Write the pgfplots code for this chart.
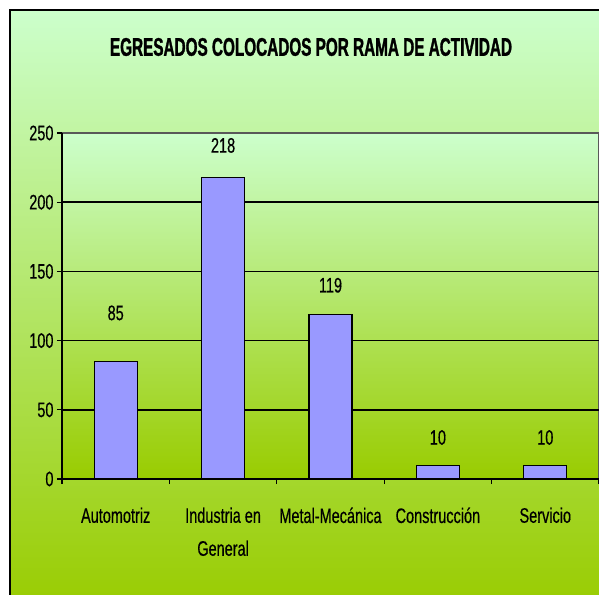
\documentclass[border=0pt]{standalone}
\usepackage{fontspec}
\setmainfont{Liberation Sans}[FakeStretch=0.69, FakeBold=0.4]
\newfontfamily\titlefont{Liberation Sans Bold}[FakeStretch=0.6, FakeBold=1.2]
\usepackage{pgfplots}
\pgfplotsset{compat=1.18}
\definecolor{topg}{HTML}{CCFFCC}
\definecolor{botg}{HTML}{99CC00}
\definecolor{barc}{HTML}{9999FF}
\begin{document}
\begin{tikzpicture}
\useasboundingbox (-62pt,-115pt) rectangle (537pt,479pt);
\shade[top color=topg, bottom color=botg] (-52pt,469pt) rectangle (570pt,-130pt);
\draw[black, line width=2pt] (-52pt,469pt) rectangle (570pt,-130pt);
\node[font=\titlefont\fontsize{25.5}{30}\selectfont] at (249pt,432pt) {EGRESADOS COLOCADOS POR RAMA DE ACTIVIDAD};
\begin{axis}[at={(0pt,0pt)}, anchor=south west, scale only axis,
  width=537pt, height=346pt,
  xmin=-0.5, xmax=4.5, ymin=0, ymax=250,
  axis background/.style={top color=topg, bottom color=botg, draw=gray!70!black, line width=1.5pt},
  axis x line*=bottom, axis y line*=left,
  axis line style={black, line width=1.5pt},
  tick align=outside, major tick length=5pt,
  tick style={black, line width=1.2pt},
  tick label style={font=\fontsize{21}{25}\selectfont},
  /pgf/number format/assume math mode=true,
  xtick={-0.5,0.5,...,4.5}, xticklabels={},
  extra x ticks={0,1,2,3,4},
  extra x tick labels={Automotriz, {Industria en\\[8pt]General}, Metal-Mecánica, Construcción, Servicio},
  extra x tick style={major tick length=0pt, xticklabel style={align=center, anchor=north, yshift=-25pt}},
  ytick={0,50,...,200},
  extra y ticks={250},
  extra y tick style={grid=none},
  ymajorgrids, major grid style={black, line width=1.5pt},
]
\addplot[ybar, bar width=43pt, fill=barc, draw=black, line width=1.2pt]
  coordinates {(0,85) (1,218) (2,119) (3,10) (4,10)};
\addplot[draw=none, mark=none, nodes near coords, point meta=explicit symbolic,
  every node near coord/.append style={anchor=center, font=\fontsize{21}{25}\selectfont}]
  coordinates {(0,120) [85] (1,241) [218] (2,140) [119] (3,30) [10] (4,30) [10]};
\end{axis}
\end{tikzpicture}
\end{document}
